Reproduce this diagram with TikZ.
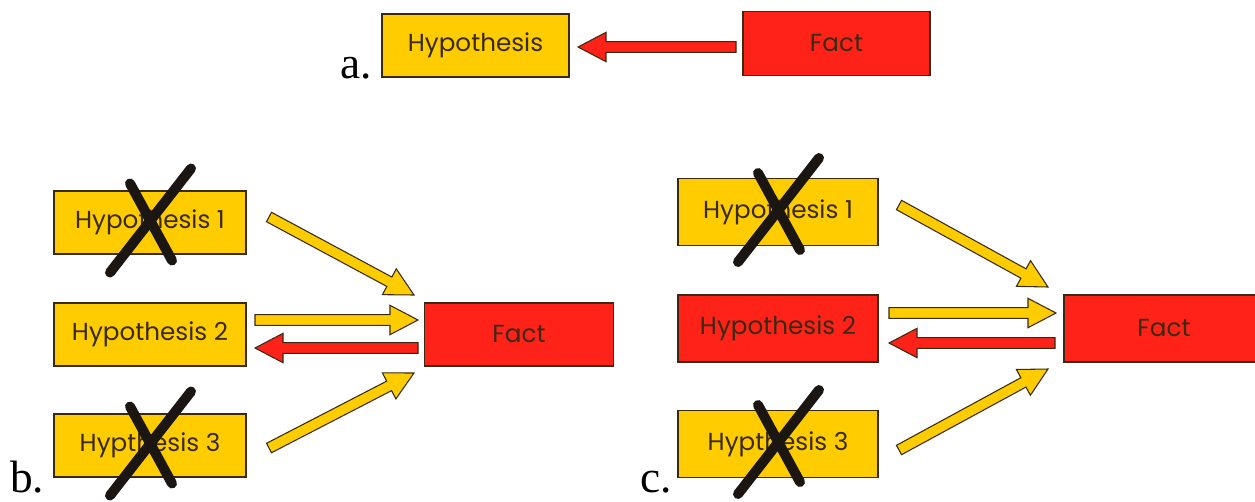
\documentclass[tikz,border=0pt]{standalone}
\usepackage{fontspec}
\setmainfont{Liberation Serif}
\newfontfamily\boxfont{Poppins}
\usetikzlibrary{arrows.meta, positioning}

\definecolor{hypyellow}{HTML}{FFCC00}
\definecolor{factred}{HTML}{FF2218}
\definecolor{edge}{HTML}{3A2A14}
\definecolor{ink}{HTML}{3A2A14}
\definecolor{crossink}{HTML}{1C1612}

\tikzset{
  box/.style={draw=edge, line width=1.2pt, text=ink, inner sep=0pt,
    font=\boxfont\fontsize{18.5}{22}\selectfont},
  hyp/.style={box, fill=hypyellow},
  fact/.style={box, fill=factred},
  blockarrow/.style={draw=edge, line width=0.8pt, line join=miter},
  cross/.style={draw=crossink, line width=7.5pt, line cap=round},
  partlabel/.style={anchor=base west, inner sep=0pt, font=\fontsize{34}{36}\selectfont}
}

% block arrow from coordinate #2 to coordinate #3
\newcommand\blockarrow[3][hypyellow]{%
  \pgfpointdiff{\pgfpointanchor{#2}{center}}{\pgfpointanchor{#3}{center}}%
  \pgfgetlastxy\bax\bay
  \pgfmathsetmacro\baang{atan2(\bay,\bax)}%
  \pgfmathsetmacro\balen{veclen(\bax,\bay)}%
  \draw[blockarrow, fill=#1, shift={(#2)}, rotate=\baang]
    (0pt,-4pt) -- ({\balen*1pt-21pt},-4pt) -- ({\balen*1pt-21pt},-11pt)
    -- ({\balen*1pt},0pt) -- ({\balen*1pt-21pt},11pt)
    -- ({\balen*1pt-21pt},4pt) -- (0pt,4pt) -- cycle;
}

% big X over a rejected hypothesis
\newcommand\crossout[1]{%
  \draw[cross] ([shift={(-40,50)}]#1.center) -- ([shift={(41,-54)}]#1.center);
  \draw[cross] ([shift={(-20,-39)}]#1.center) -- ([shift={(22,38)}]#1.center);
}

\begin{document}
\begin{tikzpicture}[x=0.75pt, y=-0.75pt]
\useasboundingbox (0,0) rectangle (1255,501);

% a.
\node at (340,78) [partlabel] {a.};
\node (aH) at (475.5,45.5) [hyp, minimum width=140pt, minimum height=47pt] {Hypothesis};
\node (aF) at (836.5,43.5) [fact, minimum width=140pt, minimum height=48pt] {Fact};
\coordinate (aFt) at (736,47);
\coordinate (aHt) at (578,47);
\blockarrow[factred]{aFt}{aHt}

% b.
\node at (10,492) [partlabel] {b.};
\node (bH1) at (150,222.5) [hyp, minimum width=144pt, minimum height=47pt] {Hypothesis 1};
\node (bH2) at (150,334.5) [hyp, minimum width=144pt, minimum height=47pt] {Hypothesis 2};
\node (bH3) at (150,445.5) [hyp, minimum width=144pt, minimum height=47pt] {Hypthesis 3};
\node (bF) at (519,334.5) [fact, minimum width=142pt, minimum height=47pt] {Fact};
\coordinate (b1s) at (269,217);
\coordinate (b1e) at (414,295);
\coordinate (b2s) at (255,320);
\coordinate (b2e) at (418,320);
\coordinate (b4s) at (418,348);
\coordinate (b4e) at (255,348);
\coordinate (b3s) at (269,448);
\coordinate (b3e) at (414,373);
\blockarrow{b1s}{b1e}
\blockarrow{b2s}{b2e}
\blockarrow[factred]{b4s}{b4e}
\blockarrow{b3s}{b3e}
\crossout{bH1}
\crossout{bH3}

% c.
\node at (640,492) [partlabel] {c.};
\node (cH1) at (778,212) [hyp, minimum width=150pt, minimum height=50pt] {Hypothesis 1};
\node (cH2) at (778,328.5) [fact, minimum width=150pt, minimum height=50pt] {Hypothesis 2};
\node (cH3) at (778,444) [hyp, minimum width=150pt, minimum height=50pt] {Hypthesis 3};
\node (cF) at (1164,328.5) [fact, minimum width=150pt, minimum height=50pt] {Fact};
\coordinate (c1s) at (899,205);
\coordinate (c1e) at (1048,287);
\coordinate (c2s) at (889,313);
\coordinate (c2e) at (1056,313);
\coordinate (c4s) at (1055,343);
\coordinate (c4e) at (889,343);
\coordinate (c3s) at (899,450);
\coordinate (c3e) at (1048,369);
\blockarrow{c1s}{c1e}
\blockarrow{c2s}{c2e}
\blockarrow[factred]{c4s}{c4e}
\blockarrow{c3s}{c3e}
\crossout{cH1}
\crossout{cH3}
\end{tikzpicture}
\end{document}
